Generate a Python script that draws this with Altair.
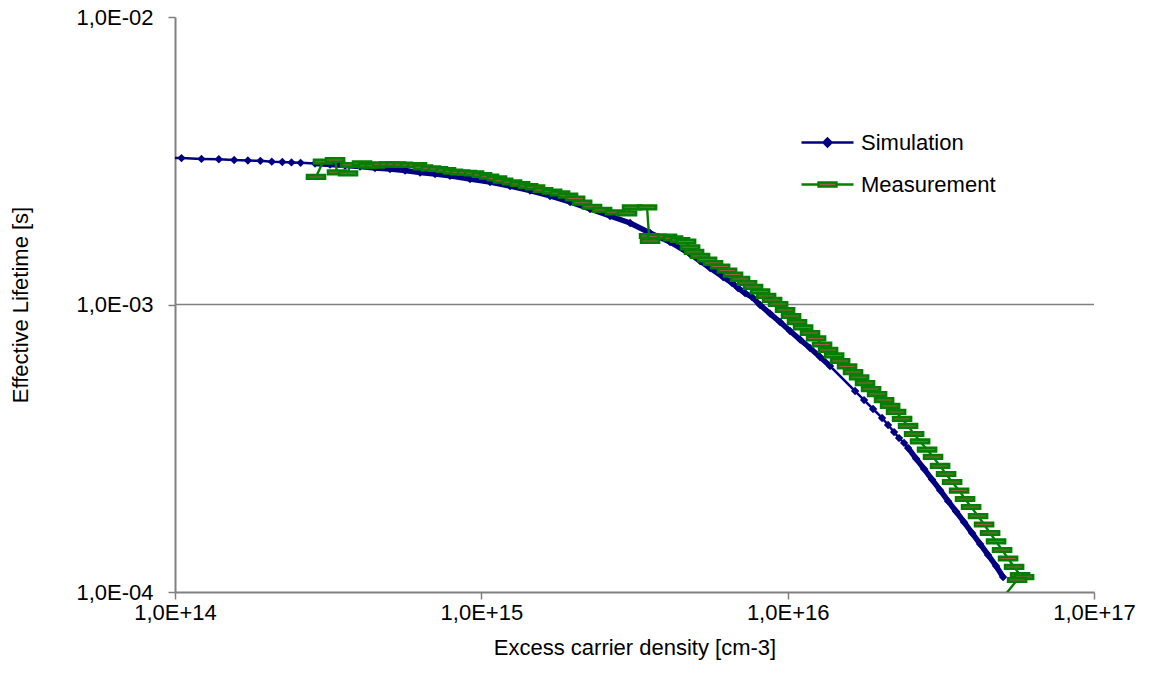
import altair as alt
import pandas as pd

# ---------------- data ----------------
series_names = ["Simulation", "Measurement"]

sim_n = [0.88e14, 1.05e14, 1.22e14, 1.39e14, 1.56e14, 1.73e14, 1.90e14, 2.07e14, 2.24e14, 2.40e14, 2.57e14,
         2.865e14, 3.207e14, 3.589e14, 4.018e14, 4.498e14, 5.034e14, 5.636e14, 6.309e14, 7.063e14, 7.903e14,
         9.186e14, 1.068e15, 1.241e15, 1.442e15, 1.676e15, 1.948e15, 2.264e15, 2.632e15, 3.059e15, 3.555e15,
         4.132e15, 4.802e15, 5.176e15, 5.581e15, 6.153e15, 6.583e15, 6.887e15, 7.260e15, 7.652e15, 8.125e15,
         8.760e15, 9.445e15, 1.018e16, 1.098e16, 1.183e16, 1.276e16, 1.375e16, 1.660e16, 1.776e16, 1.900e16,
         2.033e16, 2.127e16, 2.225e16, 2.310e16, 2.399e16, 2.472e16, 2.626e16, 2.788e16, 2.961e16, 3.145e16,
         3.340e16, 3.546e16, 3.766e16, 3.999e16, 4.247e16, 4.511e16, 4.790e16, 5.049e16]
sim_tau = [3.25e-3, 3.23e-3, 3.21e-3, 3.20e-3, 3.18e-3, 3.17e-3, 3.16e-3, 3.14e-3, 3.13e-3, 3.12e-3, 3.11e-3,
           3.093e-3, 3.069e-3, 3.044e-3, 3.020e-3, 2.984e-3, 2.960e-3, 2.925e-3, 2.878e-3, 2.844e-3, 2.805e-3,
           2.732e-3, 2.667e-3, 2.583e-3, 2.492e-3, 2.385e-3, 2.273e-3, 2.149e-3, 2.032e-3, 1.921e-3, 1.773e-3,
           1.650e-3, 1.499e-3, 1.416e-3, 1.340e-3, 1.246e-3, 1.188e-3, 1.141e-3, 1.096e-3, 1.062e-3, 0.996e-3,
           0.930e-3, 0.869e-3, 0.809e-3, 0.755e-3, 0.706e-3, 0.657e-3, 0.611e-3, 0.500e-3, 0.465e-3, 0.433e-3,
           0.403e-3, 0.381e-3, 0.360e-3, 0.343e-3, 0.330e-3, 0.317e-3, 0.291e-3, 0.268e-3, 0.246e-3, 0.226e-3,
           0.207e-3, 0.1905e-3, 0.175e-3, 0.1604e-3, 0.1469e-3, 0.1345e-3, 0.1232e-3, 0.1127e-3]
# index ranges of the simulation where the markers sit so close that they merge into a thick band
sim_dense_ranges = [(11, 47), (56, 68)]

meas_n = [2.886e14, 3.042e14, 3.330e14, 3.380e14, 3.671e14, 3.727e14, 4.078e14, 4.266e14, 4.498e14, 4.740e14,
          4.996e14, 5.267e14, 5.551e14, 5.851e14, 6.167e14, 6.451e14, 6.850e14, 7.221e14, 7.668e14, 8.082e14,
          8.519e14, 8.980e14, 9.467e14, 1.005e15, 1.060e15, 1.125e15, 1.178e15, 1.260e15, 1.338e15, 1.421e15,
          1.498e15, 1.591e15, 1.702e15, 1.807e15, 1.919e15, 2.023e15, 2.133e15, 2.298e15, 2.478e15, 2.732e15,
          2.990e15, 3.105e15, 3.475e15, 3.528e15, 3.555e15, 3.746e15, 4.039e15, 4.226e15, 4.454e15, 4.660e15,
          4.802e15, 4.948e15, 5.176e15, 5.456e15, 5.707e15, 6.016e15, 6.341e15, 6.633e15, 6.991e15, 7.369e15,
          7.710e15, 8.126e15, 8.502e15, 8.895e15, 9.305e15, 9.806e15, 1.026e16, 1.073e16, 1.123e16, 1.183e16,
          1.238e16, 1.295e16, 1.355e16, 1.418e16, 1.483e16, 1.563e16, 1.635e16, 1.711e16, 1.789e16, 1.872e16,
          1.959e16, 2.064e16, 2.160e16, 2.259e16, 2.363e16, 2.472e16, 2.587e16, 2.706e16, 2.852e16, 2.983e16,
          3.145e16, 3.290e16, 3.442e16, 3.628e16, 3.795e16, 3.970e16, 4.184e16, 4.377e16, 4.579e16, 4.790e16,
          5.012e16, 5.243e16, 5.485e16, 5.739e16, 5.913e16, 5.61e16, 4.899e16]
meas_tau = [2.777e-3, 3.139e-3, 3.181e-3, 2.883e-3, 2.860e-3, 3.056e-3, 3.098e-3, 3.040e-3, 3.040e-3, 3.074e-3,
            3.074e-3, 3.074e-3, 3.064e-3, 3.056e-3, 3.056e-3, 3.001e-3, 2.977e-3, 2.960e-3, 2.936e-3, 2.897e-3,
            2.883e-3, 2.873e-3, 2.860e-3, 2.821e-3, 2.783e-3, 2.744e-3, 2.696e-3, 2.661e-3, 2.625e-3, 2.583e-3,
            2.557e-3, 2.502e-3, 2.468e-3, 2.437e-3, 2.390e-3, 2.337e-3, 2.260e-3, 2.188e-3, 2.132e-3, 2.093e-3,
            2.076e-3, 2.178e-3, 2.178e-3, 1.731e-3, 1.663e-3, 1.724e-3, 1.721e-3, 1.699e-3, 1.676e-3, 1.656e-3,
            1.581e-3, 1.523e-3, 1.475e-3, 1.434e-3, 1.394e-3, 1.356e-3, 1.313e-3, 1.271e-3, 1.227e-3, 1.188e-3,
            1.151e-3, 1.110e-3, 1.071e-3, 1.037e-3, 1.004e-3, 0.957e-3, 0.912e-3, 0.869e-3, 0.832e-3, 0.796e-3,
            0.762e-3, 0.726e-3, 0.695e-3, 0.665e-3, 0.636e-3, 0.609e-3, 0.582e-3, 0.558e-3, 0.533e-3, 0.508e-3,
            0.488e-3, 0.465e-3, 0.444e-3, 0.423e-3, 0.400e-3, 0.378e-3, 0.3545e-3, 0.334e-3, 0.313e-3, 0.295e-3,
            0.2744e-3, 0.2573e-3, 0.2413e-3, 0.2254e-3, 0.2106e-3, 0.1975e-3, 0.1837e-3, 0.1717e-3, 0.1604e-3, 0.1499e-3,
            0.1400e-3, 0.1308e-3, 0.1222e-3, 0.1146e-3, 0.1127e-3, 0.1101e-3, 0.092e-3]

x_ticks = [1e14, 1e15, 1e16, 1e17]
y_ticks = [1e-4, 1e-3, 1e-2]
grid_values = [1e-3]

# ---------------- styling ----------------
FONT = "Liberation Sans"
FS = 22
LEG_FS = 22
SIM_COLOR = "#000080"
MEAS_COLOR = "#008000"
MEAS_FILL = "#A05A46"
AXIS_COLOR = "#808080"

sim_df = pd.DataFrame({"n": sim_n, "tau": sim_tau, "idx": list(range(len(sim_n)))})
meas_df = pd.DataFrame({"n": meas_n, "tau": meas_tau, "idx": list(range(len(meas_n)))})
grid_df = pd.DataFrame({"tau": grid_values})
legend_df = pd.DataFrame({"series": series_names})

xscale = alt.Scale(type="log", domain=[x_ticks[0], x_ticks[-1]], nice=False)
yscale = alt.Scale(type="log", domain=[y_ticks[0], y_ticks[-1]], nice=False)

xaxis = alt.Axis(values=x_ticks, grid=False, labelFlush=False, labelOverlap=False,
                 labelExpr="'1,0E+' + format(log(datum.value)/LN10, '.0f')",
                 labelFont=FONT, labelFontSize=FS, labelColor="black", labelPadding=3,
                 tickSize=7, tickColor=AXIS_COLOR, tickWidth=1.5,
                 domainColor=AXIS_COLOR, domainWidth=2,
                 title="Excess carrier density [cm-3]", titleFont=FONT, titleFontSize=FS,
                 titleFontWeight="normal", titleColor="black",
                 titleX=459.5, titleY=55, titleBaseline="middle", titleAlign="center")
yaxis = alt.Axis(values=y_ticks, grid=False, labelFlush=False, labelOverlap=False,
                 labelExpr="'1,0E-0' + format(-log(datum.value)/LN10, '.0f')",
                 labelFont=FONT, labelFontSize=FS, labelColor="black", labelPadding=15,
                 tickSize=7, tickColor=AXIS_COLOR, tickWidth=1.5,
                 domainColor=AXIS_COLOR, domainWidth=2,
                 title="Effective Lifetime [s]", titleFont=FONT, titleFontSize=FS,
                 titleFontWeight="normal", titleColor="black", titleAngle=270,
                 titleX=-155, titleY=287.5, titleBaseline="middle", titleAlign="center")

X = alt.X("n:Q", scale=xscale, axis=xaxis)
Y = alt.Y("tau:Q", scale=yscale, axis=yaxis)

grid = alt.Chart(grid_df).mark_rule(color=AXIS_COLOR, strokeWidth=1.5).encode(y=Y)

sim_line = alt.Chart(sim_df).mark_line(color=SIM_COLOR, strokeWidth=2.5, clip=True).encode(
    x=X, y=Y, order=alt.Order("idx:Q"))
sim_bands = [
    alt.Chart(sim_df).transform_filter(f"datum.idx >= {lo} && datum.idx <= {hi}")
    .mark_line(color=SIM_COLOR, strokeWidth=5.5, clip=True, strokeCap="round")
    .encode(x=X, y=Y, order=alt.Order("idx:Q"))
    for lo, hi in sim_dense_ranges
]
sim_pts = alt.Chart(sim_df).mark_point(
    shape="M0,-1L1,0L0,1L-1,0Z", filled=True, color=SIM_COLOR, size=70, opacity=1, clip=True
).encode(x=X, y=Y)

meas_line = alt.Chart(meas_df).mark_line(color=MEAS_COLOR, strokeWidth=2.4, clip=True).encode(
    x=X, y=Y, order=alt.Order("idx:Q"))
meas_pts = alt.Chart(meas_df).mark_point(
    shape="M-1,-0.2L1,-0.2L1,0.2L-1,0.2Z", filled=True, fill=MEAS_FILL, stroke=MEAS_COLOR,
    strokeWidth=2.6, size=324, opacity=1, fillOpacity=1, strokeOpacity=1, clip=True
).encode(x=X, y=Y)

sim_legend_path = "M-2.6,0L2.6,0M0,-0.4L0.4,0L0,0.4L-0.4,0Z"
meas_legend_path = "M-2.6,0L-0.9,0M0.9,0L2.6,0M-0.9,-0.2L0.9,-0.2L0.9,0.2L-0.9,0.2Z"

leg = alt.Legend(orient="none", legendX=641, legendY=114, title=None, padding=0,
                 labelFont=FONT, labelFontSize=LEG_FS, labelColor="black", labelLimit=0,
                 symbolSize=400, symbolStrokeWidth=2.4, symbolOpacity=1,
                 labelOffset=22, rowPadding=19)

legend_layer = alt.Chart(legend_df).transform_filter("false").mark_point(
    filled=True, strokeWidth=2.4, opacity=1
).encode(
    shape=alt.Shape("series:N", scale=alt.Scale(domain=series_names, range=[sim_legend_path, meas_legend_path]),
                    legend=leg),
    stroke=alt.Stroke("series:N", scale=alt.Scale(domain=series_names, range=[SIM_COLOR, MEAS_COLOR]),
                      legend=leg),
    fill=alt.Fill("series:N", scale=alt.Scale(domain=series_names, range=[SIM_COLOR, MEAS_FILL]),
                  legend=leg),
)

chart = alt.layer(grid, sim_line, *sim_bands, sim_pts, meas_line, meas_pts, legend_layer).properties(
    width=919, height=575,
    autosize=alt.AutoSizeParams(type="none"),
    padding={"left": 175, "top": 17, "right": 59, "bottom": 88},
    background="white",
).configure_view(stroke=None)

chart.save("out.html", embed_options={"renderer": "svg", "actions": False})
